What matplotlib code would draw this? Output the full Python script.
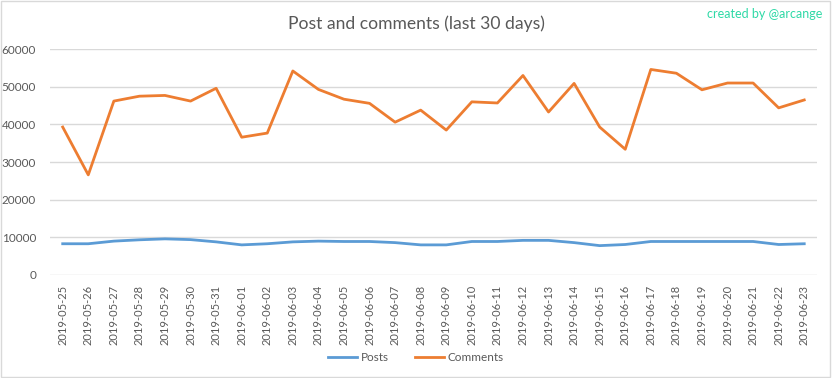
import matplotlib
matplotlib.use('Agg')
import matplotlib.pyplot as plt
from matplotlib.patches import Rectangle

plt.rcParams['font.family'] = ['Lato', 'DejaVu Sans']

dates = ['2019-05-25', '2019-05-26', '2019-05-27', '2019-05-28', '2019-05-29',
         '2019-05-30', '2019-05-31', '2019-06-01', '2019-06-02', '2019-06-03',
         '2019-06-04', '2019-06-05', '2019-06-06', '2019-06-07', '2019-06-08',
         '2019-06-09', '2019-06-10', '2019-06-11', '2019-06-12', '2019-06-13',
         '2019-06-14', '2019-06-15', '2019-06-16', '2019-06-17', '2019-06-18',
         '2019-06-19', '2019-06-20', '2019-06-21', '2019-06-22', '2019-06-23']
posts = [8300, 8300, 9000, 9350, 9600, 9400, 8800, 8000, 8300, 8800,
         9000, 8900, 8900, 8600, 8000, 8000, 8900, 8900, 9200, 9200,
         8600, 7800, 8100, 8900, 8900, 8900, 8900, 8900, 8100, 8300]
comments = [39300, 26600, 46200, 47500, 47700, 46200, 49600, 36600, 37700, 54200,
            49300, 46700, 45600, 40600, 43800, 38500, 46000, 45700, 53000, 43300,
            50900, 39300, 33400, 54600, 53600, 49200, 51000, 51000, 44400, 46500]
yticks = [0, 10000, 20000, 30000, 40000, 50000, 60000]

text_col = '#595959'
fig = plt.figure(figsize=(8.32, 3.78), dpi=100)
fig.patches.append(Rectangle((0.001, 0.002), 0.997, 0.995, transform=fig.transFigure,
                             fill=False, edgecolor='#D9D9D9', linewidth=1))
ax = fig.add_axes([0.060, 0.2725, 0.922, 0.5975])

x = list(range(len(dates)))
ax.plot(x, posts, color='#5B9BD5', linewidth=2, label='Posts')
ax.plot(x, comments, color='#ED7D31', linewidth=2, label='Comments')

ax.set_xlim(-0.5, len(dates) - 0.5)
ax.set_ylim(0, 60000)
ax.set_yticks(yticks)
ax.set_yticklabels([str(v) for v in yticks])
ax.set_xticks(x)
ax.set_xticklabels(dates, rotation=90)
ax.tick_params(axis='both', length=0, labelsize=8, colors=text_col)
ax.tick_params(axis='y', labelsize=8.5, pad=10)
ax.tick_params(axis='x', pad=7)
ax.grid(axis='y', color='#D9D9D9', linewidth=1)
ax.set_axisbelow(True)
for s in ax.spines.values():
    s.set_visible(False)

fig.text(0.5, 0.938, 'Post and comments (last 30 days)', ha='center', va='center',
         fontsize=12.6, color=text_col)
fig.text(0.988, 0.962, 'created by @arcange', ha='right', va='center',
         fontsize=9, color='#2ED9A6')
fig.legend(loc='center', bbox_to_anchor=(0.5, 0.055), ncol=2, frameon=False,
           fontsize=8.5, labelcolor=text_col, handlelength=2.5, columnspacing=2.2,
           handletextpad=0.3)

plt.savefig('out.png', dpi=100)
